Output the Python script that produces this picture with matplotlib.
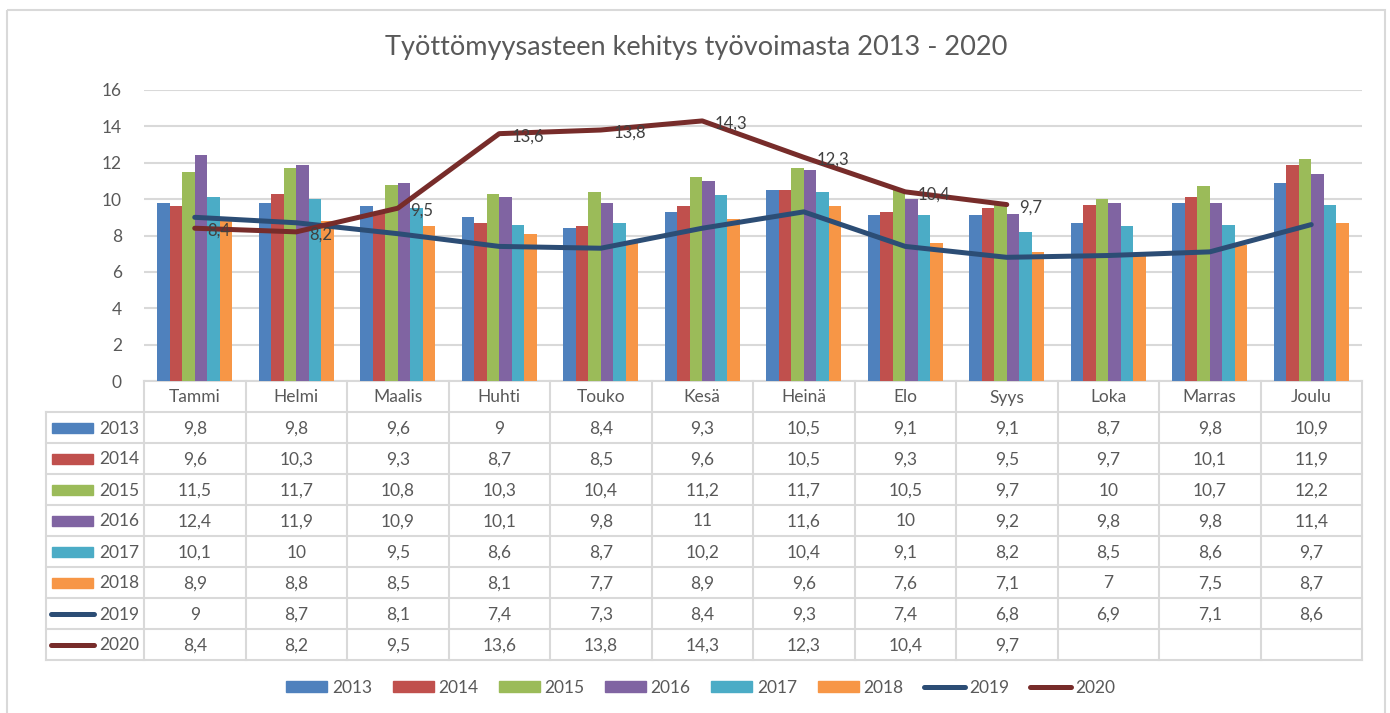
import matplotlib
matplotlib.use('Agg')
import matplotlib.pyplot as plt
import numpy as np
from matplotlib.patches import Rectangle, Patch
from matplotlib.lines import Line2D

plt.rcParams['font.family'] = ['Lato', 'DejaVu Sans']

kuukaudet = ['Tammi', 'Helmi', 'Maalis', 'Huhti', 'Touko', 'Kesä',
             'Heinä', 'Elo', 'Syys', 'Loka', 'Marras', 'Joulu']

v2013 = [9.8, 9.8, 9.6, 9, 8.4, 9.3, 10.5, 9.1, 9.1, 8.7, 9.8, 10.9]
v2014 = [9.6, 10.3, 9.3, 8.7, 8.5, 9.6, 10.5, 9.3, 9.5, 9.7, 10.1, 11.9]
v2015 = [11.5, 11.7, 10.8, 10.3, 10.4, 11.2, 11.7, 10.5, 9.7, 10, 10.7, 12.2]
v2016 = [12.4, 11.9, 10.9, 10.1, 9.8, 11, 11.6, 10, 9.2, 9.8, 9.8, 11.4]
v2017 = [10.1, 10, 9.5, 8.6, 8.7, 10.2, 10.4, 9.1, 8.2, 8.5, 8.6, 9.7]
v2018 = [8.9, 8.8, 8.5, 8.1, 7.7, 8.9, 9.6, 7.6, 7.1, 7, 7.5, 8.7]
v2019 = [9, 8.7, 8.1, 7.4, 7.3, 8.4, 9.3, 7.4, 6.8, 6.9, 7.1, 8.6]
v2020 = [8.4, 8.2, 9.5, 13.6, 13.8, 14.3, 12.3, 10.4, 9.7, None, None, None]

vuodet = ['2013', '2014', '2015', '2016', '2017', '2018', '2019', '2020']
bar_sarjat = [v2013, v2014, v2015, v2016, v2017, v2018]
bar_varit = ['#4F81BD', '#C0504D', '#9BBB59', '#8064A2', '#4BACC6', '#F79646']
viiva_varit = ['#2C4D75', '#772C2A']

harmaa = '#D9D9D9'
teksti = '#595959'

W, H = 1390, 713
L, R, T, B = 144, 1362, 90, 381
fig = plt.figure(figsize=(W / 100, H / 100), dpi=100)

# taustakehys + taulukko pikselikoordinaateissa
axt = fig.add_axes([0, 0, 1, 1])
axt.set_xlim(0, W)
axt.set_ylim(H, 0)
axt.axis('off')
axt.add_patch(Rectangle((7, 10), 1378, 720, fill=False, ec=harmaa, lw=1.5))

ax = fig.add_axes([L / W, 1 - B / H, (R - L) / W, (B - T) / H])
x = np.arange(12)
bw = 0.123
for k, (s, c) in enumerate(zip(bar_sarjat, bar_varit)):
    ax.bar(x + (k - 2.5) * bw, s, width=bw, color=c, zorder=2)

y19 = np.array(v2019, dtype=float)
y20 = np.array([np.nan if v is None else v for v in v2020], dtype=float)
ax.plot(x, y19, color=viiva_varit[0], lw=3.6, zorder=3, solid_capstyle='round')
ax.plot(x, y20, color=viiva_varit[1], lw=3.6, zorder=4, solid_capstyle='round')
for xi, yi in zip(x, y20):
    if not np.isnan(yi):
        ax.annotate(f'{yi:g}'.replace('.', ','), (xi, yi), xytext=(9, -2),
                    textcoords='offset points', ha='left', va='center',
                    fontsize=12, color='#404040', zorder=5)

ax.set_xlim(-0.5, 11.5)
ax.set_ylim(0, 16)
ax.set_yticks(range(0, 17, 2))
ax.set_xticks([])
ax.yaxis.grid(True, color=harmaa, lw=1.5)
ax.set_axisbelow(True)
ax.tick_params(axis='y', length=0, pad=16, labelsize=12.5, labelcolor=teksti)
for sp in ax.spines.values():
    sp.set_visible(False)
ax.patch.set_alpha(0)

# taulukko
cols = np.linspace(L, R, 13)
row_top = 412
rh = 31
tl = 46
axt.plot([L, R], [B, B], color=harmaa, lw=1.5)
for r in range(9):
    yy = row_top + r * rh
    axt.plot([tl, R], [yy, yy], color=harmaa, lw=1.5)
axt.plot([tl, tl], [row_top, row_top + 8 * rh], color=harmaa, lw=1.5)
for cx in cols:
    axt.plot([cx, cx], [B, row_top + 8 * rh], color=harmaa, lw=1.5)
for i, m in enumerate(kuukaudet):
    axt.text((cols[i] + cols[i + 1]) / 2, (B + row_top) / 2 + 1, m,
             ha='center', va='center', fontsize=12.5, color=teksti)

kaikki = bar_sarjat + [v2019, v2020]
for r, (vuosi, s) in enumerate(zip(vuodet, kaikki)):
    yc = row_top + (r + 0.5) * rh
    if r < 6:
        axt.add_patch(Rectangle((52, yc - 5), 41, 10, color=bar_varit[r]))
    else:
        axt.plot([51, 94], [yc, yc], color=viiva_varit[r - 6], lw=3.6,
                 solid_capstyle='round')
    axt.text(99, yc + 1, vuosi, ha='left', va='center', fontsize=12.5, color=teksti)
    for i, v in enumerate(s):
        if v is None:
            continue
        axt.text((cols[i] + cols[i + 1]) / 2, yc + 1, f'{v:g}'.replace('.', ','),
                 ha='center', va='center', fontsize=12.5, color=teksti)

fig.suptitle('Työttömyysasteen kehitys työvoimasta 2013 - 2020',
             x=696 / W, y=1 - 47 / H, va='center', fontsize=19.5, color=teksti)

handles = [Patch(color=c) for c in bar_varit] + \
          [Line2D([], [], color=c, lw=3.6, solid_capstyle='round') for c in viiva_varit]
fig.legend(handles, vuodet, loc='center', bbox_to_anchor=(701 / W, 1 - 688 / H),
           ncol=8, frameon=False, fontsize=12.5, handlelength=2.36, handleheight=0.6,
           handletextpad=0.25, columnspacing=1.2, labelcolor=teksti)

fig.savefig('out.png', dpi=100)
